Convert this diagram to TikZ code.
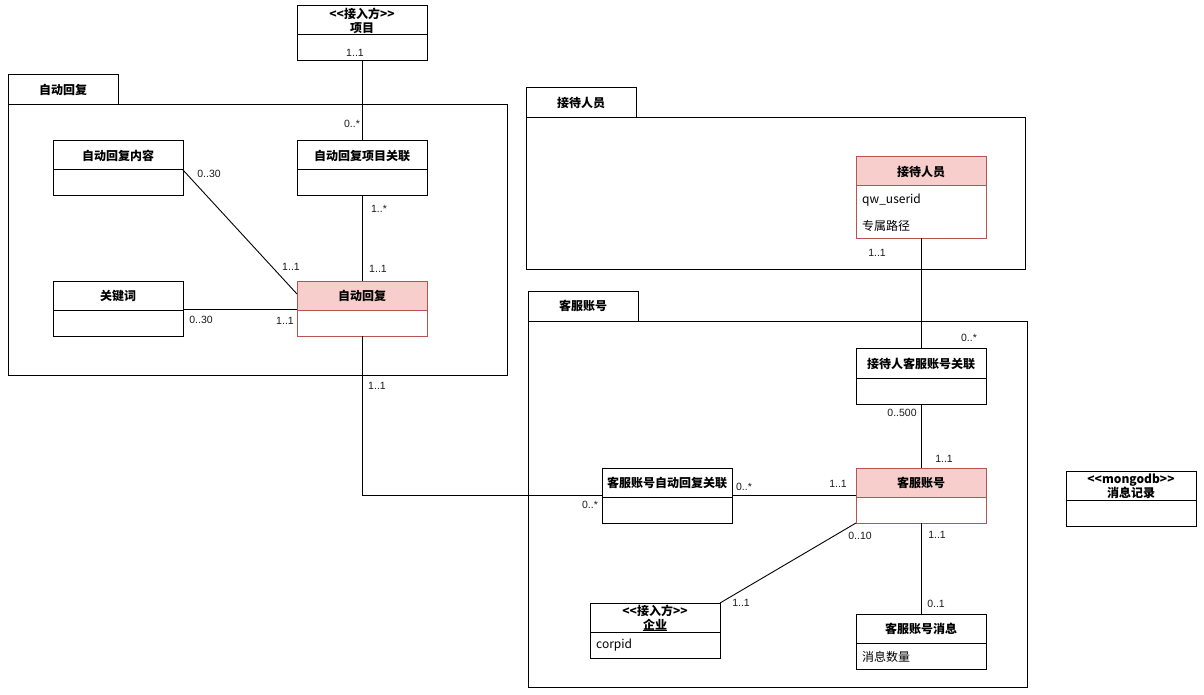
\documentclass[tikz,border=0pt]{standalone}
\usepackage{fontspec}
\setmainfont{Liberation Sans}
\newfontfamily\cjk{Noto Sans CJK SC}
\usetikzlibrary{calc}
\definecolor{pinkfill}{HTML}{F8CECC}
\definecolor{pinkline}{HTML}{B85450}
\tikzset{
  box/.style={draw=black, line width=1pt, fill=white, inner sep=0pt, outer sep=0pt, anchor=north west, minimum width=130pt},
  pinkbox/.style={box, draw=pinkline, path picture={\fill[pinkfill] (path picture bounding box.north west) rectangle ([yshift=-29pt]path picture bounding box.north east);}},
  divider/.style={line width=1pt, black},
  pdivider/.style={line width=1pt, pinkline},
  ctitle/.style={font=\fontsize{12}{14}\selectfont\bfseries\cjk, inner sep=0pt, anchor=center, align=center},
  attr/.style={font=\fontsize{12}{14}\selectfont\cjk, inner sep=0pt, anchor=west},
  mult/.style={font=\fontsize{10.5}{12}\selectfont, inner sep=0pt, text=black!90},
  conn/.style={line width=0.9pt, black},
  pkg/.style={draw=black, line width=1pt, inner sep=0pt, outer sep=0pt, anchor=north west, font=\fontsize{12}{14}\selectfont\bfseries\cjk},
}
\begin{document}
\begin{tikzpicture}[x=1pt,y=-1pt]
\useasboundingbox (0,0) rectangle (1204,695);

% ---------- packages ----------
\node[pkg, minimum width=499pt, minimum height=270pt] (arPkg) at (8,105) {};
\node[pkg, minimum width=110pt, minimum height=30pt] (arTab) at (8,75) {自动回复};
\node[pkg, minimum width=499pt, minimum height=151pt] (jdPkg) at (526,118) {};
\node[pkg, minimum width=110pt, minimum height=30pt] (jdTab) at (526,88) {接待人员};
\node[pkg, minimum width=499pt, minimum height=366pt] (kfPkg) at (528,321) {};
\node[pkg, minimum width=110pt, minimum height=30pt] (kfTab) at (528,291) {客服账号};

% ---------- classes ----------
% 项目
\node[box, minimum height=55pt] (xm) at (297,6) {};
\draw[divider] (297,35) -- (427,35);
\node[ctitle] (xmT) at (362,21) {<<接入方>>\\项目};

% 自动回复项目关联
\node[box, minimum height=55pt] (arx) at (297,141) {};
\draw[divider] (297,170) -- (427,170);
\node[ctitle] (arxT) at (362,156) {自动回复项目关联};

% 自动回复内容
\node[box, minimum height=55pt] (nr) at (53,141) {};
\draw[divider] (53,170) -- (183,170);
\node[ctitle] (nrT) at (118,156) {自动回复内容};

% 关键词
\node[box, minimum height=55pt] (kw) at (53,281) {};
\draw[divider] (53,310) -- (183,310);
\node[ctitle] (kwT) at (118,296) {关键词};

% 自动回复
\node[pinkbox, minimum height=55pt] (ar) at (297,281) {};
\draw[pdivider] (297,310) -- (427,310);
\node[ctitle] (arT) at (362,296) {自动回复};

% 接待人员
\node[pinkbox, minimum height=81pt] (jd) at (856,157) {};
\draw[pdivider] (856,186) -- (986,186);
\node[ctitle] (jdT) at (921,172) {接待人员};
\node[attr] (jdA1) at (862,200) {qw\_userid};
\node[attr] (jdA2) at (862,226) {专属路径};

% 接待人客服账号关联
\node[box, minimum height=56pt] (jk) at (856,348) {};
\draw[divider] (856,378) -- (986,378);
\node[ctitle] (jkT) at (921,364) {接待人客服账号关联};

% 客服账号
\node[pinkbox, minimum height=55pt] (kf) at (856,468) {};
\draw[pdivider] (856,497) -- (986,497);
\node[ctitle] (kfT) at (921,483) {客服账号};

% 客服账号自动回复关联
\node[box, minimum height=55pt] (kar) at (602,468) {};
\draw[divider] (602,497) -- (732,497);
\node[ctitle] (karT) at (667,483) {客服账号自动回复关联};

% 企业
\node[box, minimum height=55pt] (qy) at (590,603) {};
\draw[divider] (590,632) -- (720,632);
\node[ctitle] (qyT) at (655,618) {<<接入方>>\\企业};
\draw[line width=0.8pt] (643,630) -- (667,630);
\node[attr] (qyA1) at (596,645) {corpid};

% 客服账号消息
\node[box, minimum height=55pt] (xx) at (856,614) {};
\draw[divider] (856,643) -- (986,643);
\node[ctitle] (xxT) at (921,629) {客服账号消息};
\node[attr] (xxA1) at (862,657) {消息数量};

% 消息记录
\node[box, minimum height=55pt] (mg) at (1066,471) {};
\draw[divider] (1066,500) -- (1196,500);
\node[ctitle] (mgT) at (1131,486) {<<mongodb>>\\消息记录};

% ---------- connectors ----------
\draw[conn] (xm.south) -- (arx.north);
\draw[conn] (arx.south) -- (ar.north);
\draw[conn] ([yshift=-29pt]nr.north east) -- ([yshift=-13pt]ar.north west);
\draw[conn] ([yshift=-28pt]kw.north east) -- ([yshift=-28pt]ar.north west);
\draw[conn] (ar.south) |- ([yshift=-27pt]kar.north west);
\draw[conn] (jd.south) -- (jk.north);
\draw[conn] (jk.south) -- (kf.north);
\draw[conn] ([yshift=-27pt]kar.north east) -- ([yshift=-27pt]kf.north west);
\draw[conn] (kf.south west) -- (qy.north east);
\draw[conn] (kf.south) -- (xx.north);

% ---------- multiplicities ----------
\node[mult] (m1) at (355,53) {1..1};
\node[mult] (m2) at (352,124) {0..*};
\node[mult] (m3) at (379,209) {1..*};
\node[mult] (m4) at (378,269) {1..1};
\node[mult] (m5) at (209,174) {0..30};
\node[mult] (m6) at (291,267) {1..1};
\node[mult] (m7) at (201,320) {0..30};
\node[mult] (m8) at (285,321) {1..1};
\node[mult] (m9) at (377,386) {1..1};
\node[mult] (m10) at (590,505) {0..*};
\node[mult] (m11) at (877,253) {1..1};
\node[mult] (m12) at (969,338) {0..*};
\node[mult] (m13) at (902,413) {0..500};
\node[mult] (m14) at (944,459) {1..1};
\node[mult] (m15) at (744,487) {0..*};
\node[mult] (m16) at (838,484) {1..1};
\node[mult] (m17) at (860,536) {0..10};
\node[mult] (m18) at (741,603) {1..1};
\node[mult] (m19) at (937,535) {1..1};
\node[mult] (m20) at (936,604) {0..1};
\end{tikzpicture}
\end{document}
